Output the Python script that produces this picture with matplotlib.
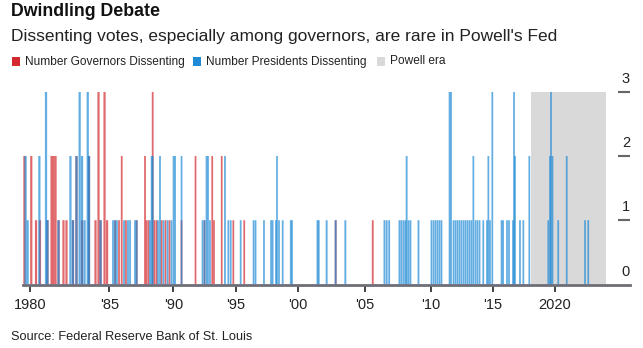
import numpy as np
import matplotlib.pyplot as plt
from matplotlib.patches import Rectangle

plt.rcParams['font.family'] = ['Liberation Sans', 'DejaVu Sans']

# FOMC dissents by meeting (decimal year of the meeting, number of dissenters)
gov_dates = [1979.65, 1980.08, 1980.38, 1980.63, 1981.10, 1981.36, 1981.48, 1981.61,
             1981.80, 1982.11, 1982.30, 1982.71, 1982.93, 1983.28, 1983.72, 1984.13,
             1984.32, 1984.45, 1984.70, 1984.86, 1985.45, 1985.76, 1985.97, 1986.30,
             1987.14, 1987.79, 1987.91, 1988.06, 1988.39, 1988.53, 1988.69, 1989.08,
             1989.39, 1989.70, 1990.66, 1991.78, 1992.50, 1993.12, 1993.26, 1993.88,
             1994.81, 1995.69, 2002.82, 2005.59]
gov_counts = [2, 2, 1, 1, 1, 2, 2, 2,
              1, 1, 1, 1, 2, 1, 2, 1,
              3, 1, 3, 1, 1, 1, 2, 1,
              1, 2, 1, 1, 3, 1, 1, 1,
              1, 1, 1, 2, 1, 2, 1, 2,
              1, 1, 1, 1]

pres_dates = [1979.72, 1979.85, 1980.59, 1981.01, 1981.10, 1981.80, 1982.55, 1982.71,
              1982.93, 1983.13, 1983.28, 1983.44, 1983.64, 1983.72, 1984.45, 1985.29,
              1985.45, 1985.60, 1986.15, 1986.46, 1986.62, 1987.01, 1987.14, 1988.18,
              1988.31, 1988.39, 1988.80, 1988.96, 1989.23, 1989.55, 1989.86, 1990.02,
              1990.14, 1990.66, 1992.34, 1992.50, 1992.66, 1992.78, 1992.94, 1994.14,
              1994.41, 1994.60, 1995.40, 1996.44, 1996.60, 1997.28, 1997.85, 1997.98,
              1998.25, 1998.33, 1998.49, 1998.79, 1999.44, 1999.54, 2001.47, 2001.56,
              2002.15, 2002.82, 2003.54, 2006.48, 2006.65, 2006.84, 2007.62, 2007.77,
              2007.93, 2008.08, 2008.17, 2008.31, 2008.46, 2009.07, 2010.06, 2010.23,
              2010.39, 2010.55, 2010.71, 2010.87, 2011.52, 2011.64, 2011.84, 2012.00,
              2012.16, 2012.32, 2012.48, 2012.65, 2012.81, 2012.97, 2013.13, 2013.29,
              2013.44, 2013.61, 2013.77, 2013.94, 2014.24, 2014.54, 2014.65, 2014.78,
              2014.97, 2015.71, 2015.83, 2016.15, 2016.31, 2016.63, 2016.71, 2016.79,
              2017.19, 2017.46, 2017.94, 2019.46, 2019.60, 2019.68, 2019.80, 2020.26,
              2020.94, 2022.41, 2022.67]
pres_counts = [2, 1, 2, 3, 1, 1, 2, 1,
               2, 3, 2, 1, 3, 2, 1, 1,
               1, 1, 1, 1, 1, 1, 1, 1,
               2, 2, 1, 2, 1, 1, 1, 2,
               2, 2, 1, 1, 2, 2, 1, 2,
               1, 1, 1, 1, 1, 1, 1, 1,
               1, 2, 1, 1, 1, 1, 1, 1,
               1, 1, 1, 1, 1, 1, 1, 1,
               1, 1, 2, 1, 1, 1, 1, 1,
               1, 1, 1, 1, 3, 3, 1, 1,
               1, 1, 1, 1, 1, 1, 1, 1,
               2, 1, 1, 1, 1, 1, 2, 1,
               3, 1, 1, 1, 1, 1, 3, 2,
               1, 1, 2, 1, 2, 3, 2, 1,
               2, 1, 1]

powell_start, powell_end = 2018.1, 2024.1

tick_years = [1980, 1985, 1990, 1995, 2000, 2005, 2010, 2015, 2020]
tick_labels = ['1980', "'85", "'90", "'95", "'00", "'05", "'10", "'15", '2020']

# the early 80s had many more meetings, so the axis is spaced by meeting count
axis_years = [1979.56, 1980, 1985, 1990, 1995, 2000, 2005, 2010, 2015, 2020, 2026.02]
axis_units = [0, 7, 86.3, 150.3, 212.7, 274.7, 342, 407.7, 469.7, 532, 607]


def forward(x):
    return np.interp(x, axis_years, axis_units)


def inverse(x):
    return np.interp(x, axis_units, axis_years)


RED = '#d42a2f'
BLUE = '#1f8ad6'
GRAY = '#d9d9d9'

fig = plt.figure(figsize=(6.43, 3.48), dpi=100)
ax = fig.add_axes([23 / 643, 63.5 / 348, 607 / 643, 192.8 / 348])
ax.set_xscale('function', functions=(forward, inverse))
ax.set_xlim(axis_years[0], axis_years[-1])
ax.set_ylim(0, 3)

ax.axvspan(powell_start, powell_end, color=GRAY, lw=0, zorder=0)
ax.bar(gov_dates, gov_counts, width=0.14, color=RED, alpha=0.7, lw=0,
       snap=False, zorder=2)
ax.bar(pres_dates, pres_counts, width=0.14, color=BLUE, alpha=0.7, lw=0,
       snap=False, zorder=2)

for side in ['left', 'top', 'right']:
    ax.spines[side].set_visible(False)
ax.spines['bottom'].set_color('#6e6e78')
ax.spines['bottom'].set_linewidth(2)
ax.spines['bottom'].set_zorder(3)

ax.set_xticks(tick_years)
ax.set_xticklabels(tick_labels)
ax.tick_params(axis='x', length=5, width=1.2, color='#222222', labelsize=10.5,
               pad=5, labelcolor='#222222')
ax.xaxis.set_minor_locator(plt.NullLocator())

ax.yaxis.tick_right()
ax.set_yticks([1, 2, 3])
ax.tick_params(axis='y', direction='in', length=9, width=1.5, color='#666666',
               labelright=False)
for v in [0, 1, 2, 3]:
    ax.text(1.0, v + 0.2, str(v), transform=ax.get_yaxis_transform(),
            ha='right', va='center', fontsize=10.5, color='#222222')

fig.text(11 / 643, 1 - 12 / 348, 'Dwindling Debate', fontsize=12.8,
         fontweight='bold', va='center', color='#111111')
fig.text(11 / 643, 1 - 37 / 348,
         "Dissenting votes, especially among governors, are rare in Powell's Fed",
         fontsize=12.5, va='center', color='#222222')

legend_items = [(12, 'Number Governors Dissenting', RED),
                (193, 'Number Presidents Dissenting', BLUE),
                (377, 'Powell era', GRAY)]
for x0, label, color in legend_items:
    fig.add_artist(Rectangle((x0 / 643, 1 - 66 / 348), 8 / 643, 9 / 348,
                             transform=fig.transFigure, color=color, lw=0))
    fig.text((x0 + 13) / 643, 1 - 61.5 / 348, label, fontsize=8.6,
             va='center', color='#222222')

fig.text(11 / 643, 1 - 337 / 348, 'Source: Federal Reserve Bank of St. Louis',
         fontsize=9.2, va='center', color='#222222')

fig.savefig('out.png', dpi=100)
